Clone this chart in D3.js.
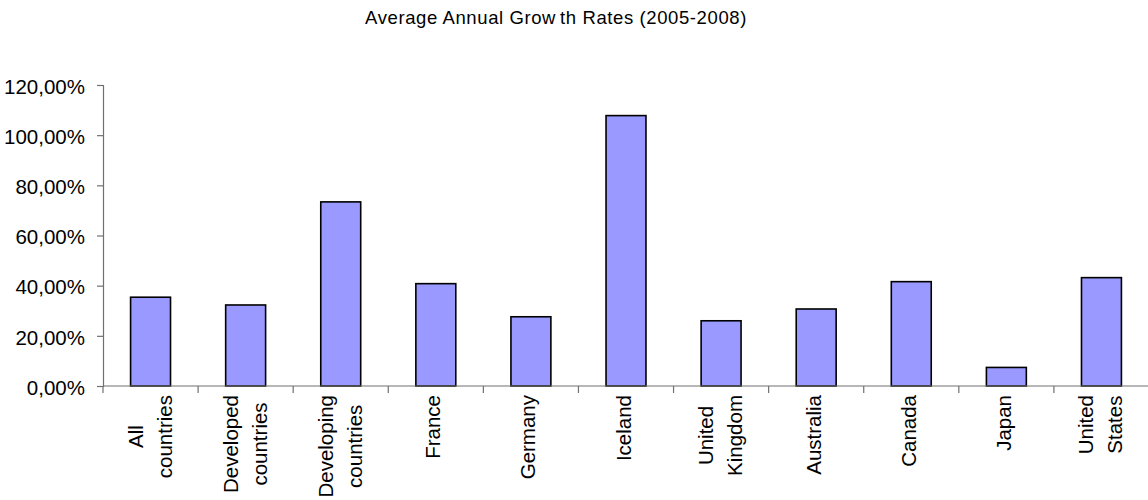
<!DOCTYPE html>
<html>
<head>
<meta charset="utf-8">
<script src="https://cdn.jsdelivr.net/npm/d3@7"></script>
<style>
  html, body { margin: 0; padding: 0; background: #fff; }
  svg { display: block; font-family: "Liberation Sans", Arial, sans-serif; }
</style>
</head>
<body>
<svg id="chart" width="1148" height="500"></svg>
<script>
// Average annual growth rate per country group / country, in percent
const categories = [
  "All countries", "Developed countries", "Developing countries", "France",
  "Germany", "Iceland", "United Kingdom", "Australia", "Canada", "Japan", "United States"
];
const growthRates = [35.4, 32.3, 73.4, 40.8, 27.6, 107.8, 26.0, 30.7, 41.6, 7.4, 43.2];
const yTicks = [0, 20, 40, 60, 80, 100, 120];
const chartTitle = "Average Annual Growth Rates (2005-2008)";

const svg = d3.select("#chart");
const plot = { left: 103, right: 1149, top: 85, bottom: 386 };

const x = d3.scaleBand()
  .domain(categories)
  .range([plot.left, plot.right])
  .padding(0);

const y = d3.scaleLinear()
  .domain([0, 120])
  .range([plot.bottom, plot.top]);

// Comma as decimal separator, e.g. "40,00%"
const locale = d3.formatLocale({ decimal: ",", thousands: ".", grouping: [3], currency: ["", ""] });
const fmt = locale.format(".2f");

// Title (small extra gap after "Grow" as in the printed heading)
const title = svg.append("text")
  .attr("x", 556)
  .attr("y", 24)
  .attr("text-anchor", "middle")
  .attr("font-size", 18.5)
  .attr("letter-spacing", 0.6)
  .attr("fill", "#000");
const parts = chartTitle.split("Growth");
title.append("tspan").text(parts[0] + "Grow");
title.append("tspan").attr("dx", 4).text("th" + parts[1]);

// Bars
const barFrac = 0.42;
svg.append("g")
  .selectAll("rect")
  .data(categories)
  .join("rect")
  .attr("x", d => x(d) + x.bandwidth() * (1 - barFrac) / 2)
  .attr("width", x.bandwidth() * barFrac)
  .attr("y", (d, i) => y(growthRates[i]))
  .attr("height", (d, i) => y(0) - y(growthRates[i]))
  .attr("fill", "#9999ff")
  .attr("stroke", "#000")
  .attr("stroke-width", 1.6);

// Y axis
const yAxis = svg.append("g")
  .attr("transform", `translate(${plot.left},0)`)
  .call(d3.axisLeft(y).tickValues(yTicks).tickSize(6).tickFormat(d => fmt(d) + "%"));
yAxis.select(".domain").attr("stroke", "#707070").attr("stroke-width", 1.2);
yAxis.selectAll(".tick line").attr("stroke", "#707070").attr("stroke-width", 1.2);
yAxis.selectAll(".tick text")
  .attr("font-size", 20.5)
  .attr("font-family", "Liberation Sans, Arial, sans-serif")
  .attr("fill", "#000")
  .attr("x", -18)
  .attr("dy", "0.4em");

// X axis line with ticks at category boundaries
const xAxisG = svg.append("g");
xAxisG.append("line")
  .attr("x1", plot.left).attr("x2", plot.right)
  .attr("y1", y(0)).attr("y2", y(0))
  .attr("stroke", "#707070").attr("stroke-width", 1.2);
const boundaries = categories.map(c => x(c)).concat([plot.right]);
xAxisG.selectAll("line.tk")
  .data(boundaries)
  .join("line")
  .attr("class", "tk")
  .attr("x1", d => d).attr("x2", d => d)
  .attr("y1", y(0)).attr("y2", y(0) + 7)
  .attr("stroke", "#707070").attr("stroke-width", 1.2);

// Rotated category labels, lines centred on each other, block starting just under the axis
const lineGap = 29;
const labels = svg.append("g").attr("font-size", 20.5).attr("fill", "#000");
categories.forEach(cat => {
  const lines = cat.split(" ");
  const cx = x(cat) + x.bandwidth() / 2;
  const g = labels.append("g")
    .attr("transform", `translate(${cx},${plot.bottom + 9}) rotate(-90)`);
  const base = lines.length > 1 ? 6.5 : 4.5;
  const texts = lines.map((ln, k) => g.append("text")
    .attr("text-anchor", "middle")
    .attr("y", base + (k - (lines.length - 1) / 2) * lineGap)
    .text(ln));
  const maxLen = d3.max(texts, t => t.node().getComputedTextLength());
  texts.forEach(t => t.attr("x", -maxLen / 2));
});
</script>
</body>
</html>
